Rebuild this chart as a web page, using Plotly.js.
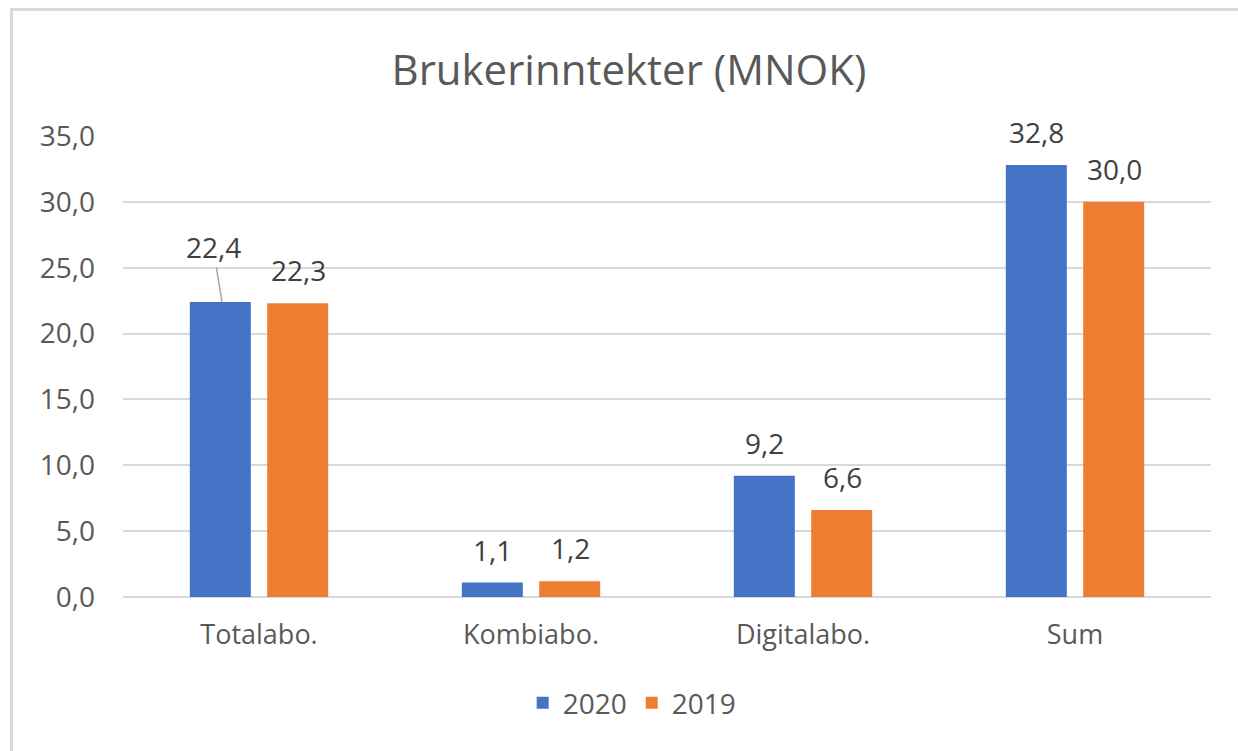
<!DOCTYPE html>
<html>
<head>
<meta charset="utf-8">
<script src="https://cdn.plot.ly/plotly-3.0.1.min.js"></script>
<style>
  html, body { margin: 0; padding: 0; background: #ffffff; }
  #wrap { position: relative; width: 1238px; height: 751px; overflow: hidden; }
  #chart { width: 1238px; height: 751px; }
  #frame { position: absolute; left: 10px; top: 8px; width: 1300px; height: 800px;
           border-left: 3px solid #d9d9d9; border-top: 3px solid #d9d9d9; pointer-events: none; }
</style>
</head>
<body>
<div id="wrap">
  <div id="chart"></div>
  <div id="frame"></div>
</div>
<script>
const categories = ["Totalabo.", "Kombiabo.", "Digitalabo.", "Sum"];
const seriesNames = ["2020", "2019"];
const values2020 = [22.4, 1.1, 9.2, 32.8];
const values2019 = [22.3, 1.2, 6.6, 30.0];
const colors = ["#4472C4", "#ED7D31"];
const titleText = "Brukerinntekter (MNOK)";

const font = "Open Sans, Noto Sans, Liberation Sans, sans-serif";
const allSeries = [values2020, values2019];

const traces = allSeries.map((vals, i) => ({
  type: "bar",
  name: seriesNames[i],
  x: categories,
  y: vals,
  marker: { color: colors[i], line: { width: 0 } },
  hoverinfo: "skip"
}));

const fmt = v => v.toFixed(1).replace(".", ",");
const annotations = [];
allSeries.forEach((vals, i) => {
  vals.forEach((v, j) => {
    const a = {
      x: categories[j], y: v, xref: "x", yref: "y",
      text: fmt(v),
      font: { family: font, size: 28, color: "#404040" },
      xshift: i === 0 ? -39 : 39,
      yshift: 33,
      yanchor: "middle",
      showarrow: false
    };
    if (i === 0 && j === 0) {
      a.showarrow = true;
      a.arrowhead = 0;
      a.arrowwidth = 1.5;
      a.arrowcolor = "#a6a6a6";
      a.xshift = -37;
      a.yshift = 0;
      a.ax = -9;
      a.ay = -55;
      a.standoff = 0;
    }
    annotations.push(a);
  });
});

const layout = {
  width: 1238,
  height: 751,
  paper_bgcolor: "#ffffff",
  plot_bgcolor: "#ffffff",
  separators: ",.",
  margin: { l: 123, r: 27, t: 136, b: 154 },
  title: {
    text: titleText,
    font: { family: font, size: 42, color: "#595959" },
    x: 0.508, xanchor: "center",
    y: 0.907, yanchor: "middle"
  },
  barmode: "group",
  bargap: 0.431,
  bargroupgap: 0.212,
  showlegend: true,
  legend: {
    orientation: "h",
    x: 0.468, xanchor: "center",
    y: -0.23, yanchor: "middle",
    font: { family: font, size: 28, color: "#595959" },
    itemclick: false
  },
  xaxis: {
    type: "category",
    showgrid: false,
    showline: false,
    zeroline: false,
    ticks: "",
    ticklabelstandoff: 19,
    tickfont: { family: font, size: 27, color: "#595959" }
  },
  yaxis: {
    range: [0, 35],
    dtick: 5,
    tick0: 0,
    tickformat: ".1f",
    showgrid: true,
    gridcolor: "#d9d9d9",
    gridwidth: 2,
    zeroline: true,
    zerolinecolor: "#d9d9d9",
    zerolinewidth: 2,
    showline: false,
    ticks: "",
    ticklabelstandoff: 27,
    tickfont: { family: font, size: 28, color: "#595959" }
  },
  annotations: annotations
};

Plotly.newPlot("chart", traces, layout, { displayModeBar: false, staticPlot: true });
</script>
</body>
</html>
